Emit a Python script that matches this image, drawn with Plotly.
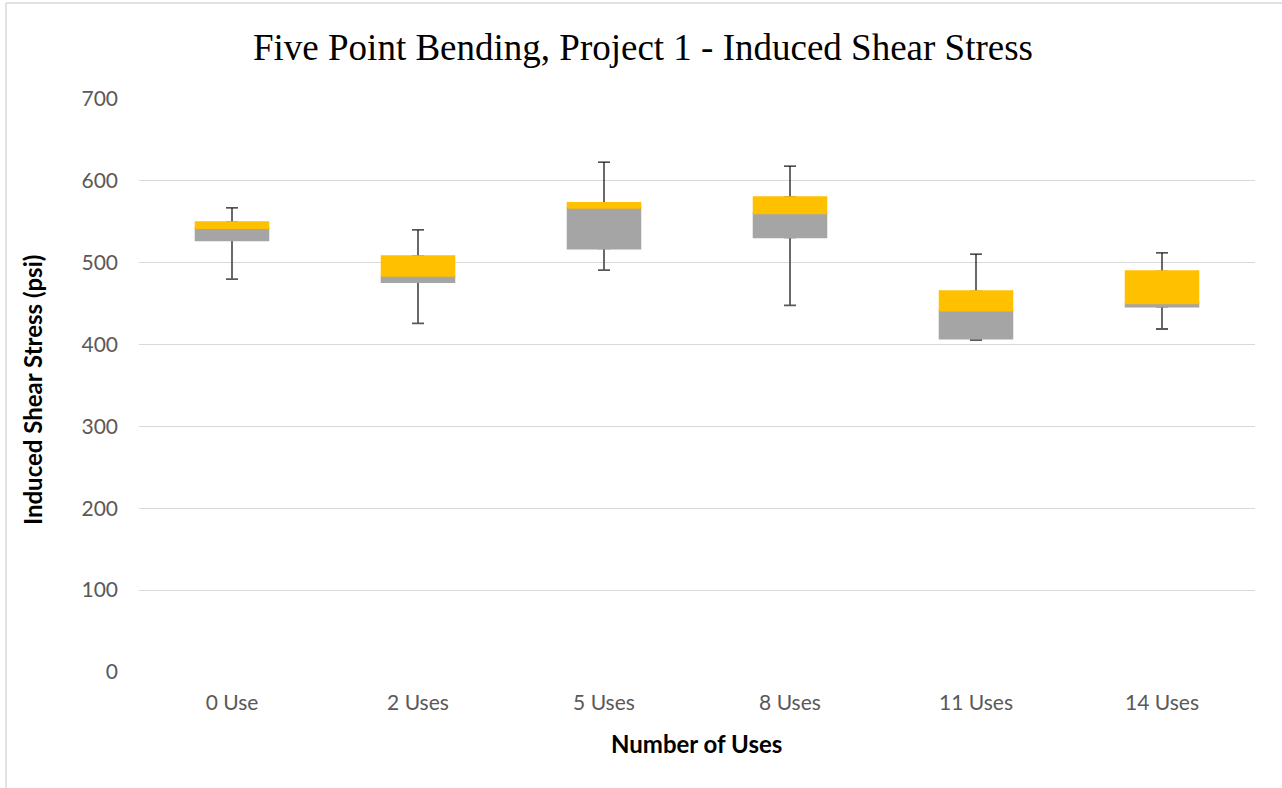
import plotly.graph_objects as go

categories = ["0 Use", "2 Uses", "5 Uses", "8 Uses", "11 Uses", "14 Uses"]
minimum = [480, 426, 491, 448, 405.5, 419]
q1 = [527.5, 476.5, 517.5, 531, 407.5, 446.5]
median = [542.5, 484, 567, 560.5, 441.5, 450.5]
q3 = [549.5, 508, 573, 580, 465, 489.5]
maximum = [567, 540, 623, 618, 510.5, 512]

W, H = 1282, 788
L, R, T, B = 139, 27, 99, 116
pw, ph = W - L - R, H - T - B

def px(x):
    return (x - L) / pw

def py(y):
    return (H - B - y) / ph

clear = "rgba(0,0,0,0)"
fig = go.Figure()

# Invisible bar up to Q1 carrying the lower whisker (Q1 -> min)
fig.add_trace(go.Bar(
    x=categories, y=q1, base=0,
    marker=dict(color=clear, line=dict(width=0)),
    error_y=dict(type="data", symmetric=False, array=[0]*6,
                 arrayminus=[a - b for a, b in zip(q1, minimum)],
                 color="#595959", thickness=1.8, width=6),
    width=0.39, showlegend=False, hoverinfo="skip"))

# Invisible bar up to Q3 carrying the upper whisker (Q3 -> max)
fig.add_trace(go.Bar(
    x=categories, y=q3, base=0,
    marker=dict(color=clear, line=dict(width=0)),
    error_y=dict(type="data", symmetric=False,
                 array=[a - b for a, b in zip(maximum, q3)], arrayminus=[0]*6,
                 color="#1a1a1a", thickness=1.3, width=6),
    width=0.39, showlegend=False, hoverinfo="skip"))

# Box: Q1 -> median (gray), median -> Q3 (gold)
fig.add_trace(go.Bar(
    x=categories, y=[m - a for m, a in zip(median, q1)], base=q1,
    marker=dict(color="#A5A5A5", line=dict(color="#A5A5A5", width=2)),
    width=0.39, showlegend=False))
fig.add_trace(go.Bar(
    x=categories, y=[b - m for b, m in zip(q3, median)], base=median,
    marker=dict(color="#FFC000", line=dict(color="#FFC000", width=2)),
    width=0.39, showlegend=False))

fig.update_layout(
    width=W, height=H,
    margin=dict(l=L, r=R, t=T, b=B),
    paper_bgcolor="white", plot_bgcolor="white",
    barmode="overlay",
    showlegend=False,
    font=dict(family="Lato, Calibri, sans-serif", color="#595959", size=21),
    xaxis=dict(showgrid=False, showline=False, zeroline=False, ticks="",
               tickfont=dict(size=21, color="#595959"), ticklabelstandoff=16),
    yaxis=dict(range=[0, 700], dtick=100, showgrid=True, gridcolor="#d9d9d9", gridwidth=1,
               zeroline=False, showline=False, ticks="",
               tickfont=dict(size=21, color="#595959"), ticklabelstandoff=20),
    annotations=[
        dict(text="Five Point Bending, Project 1 - Induced Shear Stress",
             x=px(643), y=py(48), xref="paper", yref="paper", showarrow=False,
             font=dict(family="Liberation Serif, Times New Roman, serif", size=37, color="black"),
             xanchor="center", yanchor="middle"),
        dict(text="<b>Induced Shear Stress (psi)</b>", textangle=-90,
             x=px(32), y=py(390), xref="paper", yref="paper", showarrow=False,
             font=dict(family="Lato, Calibri, sans-serif", size=24, color="black"),
             xanchor="center", yanchor="middle"),
        dict(text="<b>Number of Uses</b>",
             x=px(696), y=py(743), xref="paper", yref="paper", showarrow=False,
             font=dict(family="Lato, Calibri, sans-serif", size=24, color="black"),
             xanchor="center", yanchor="middle"),
    ],
    shapes=[
        dict(type="line", xref="paper", yref="paper",
             x0=px(6), x1=px(1290), y0=py(3), y1=py(3),
             line=dict(color="#d9d9d9", width=1.5), layer="below"),
        dict(type="line", xref="paper", yref="paper",
             x0=px(6), x1=px(6), y0=py(3), y1=py(800),
             line=dict(color="#d9d9d9", width=1.5), layer="below"),
    ],
)

fig.write_html("out.html", config={"displayModeBar": False},
               post_script="document.body.style.margin='0';")
